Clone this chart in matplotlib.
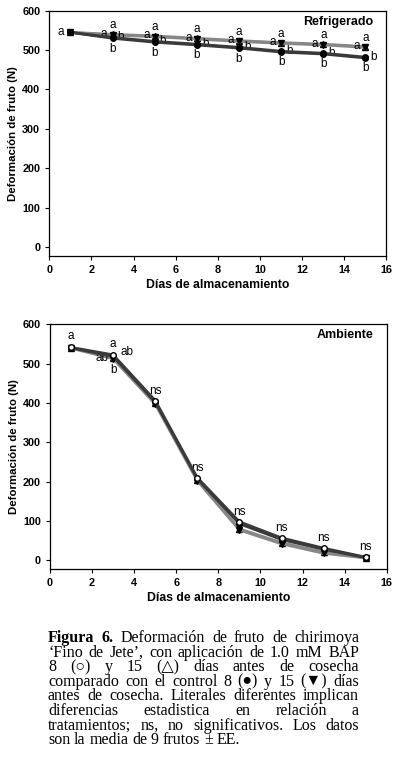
import matplotlib.pyplot as plt

dias = [1, 3, 5, 7, 9, 11, 13, 15]

# Refrigerado
bap15_r = [545, 540, 536, 530, 524, 519, 515, 509]
ctl15_r = [545, 538, 534, 528, 522, 517, 513, 507]
bap8_r = [545, 532, 522, 515, 507, 497, 492, 482]
ctl8_r = [545, 530, 520, 513, 505, 495, 490, 480]

# Ambiente
bap8_a = [541, 522, 406, 210, 98, 57, 31, 8]
ctl8_a = [540, 518, 402, 207, 93, 53, 28, 7]
bap15_a = [540, 515, 400, 205, 80, 45, 21, 7]
ctl15_a = [539, 512, 397, 202, 77, 42, 18, 6]

gris = '#878787'
oscuro = '#3a3a3a'

fig = plt.figure(figsize=(3.99, 7.70), dpi=100)
ax1 = fig.add_axes([0.1236, 0.6675, 0.845, 0.3186])
ax2 = fig.add_axes([0.1253, 0.261, 0.844, 0.318])

def serie(ax, y, color, marker, fill, z):
  ax.plot(dias, y, color=color, lw=2.0, marker=marker, ms=4,
          mfc=fill, mec='black', mew=1.0, zorder=z)

# panel refrigerado
serie(ax1, bap15_r, gris, '^', 'white', 3)
serie(ax1, ctl15_r, gris, 'v', 'black', 3)
serie(ax1, bap8_r, oscuro, 'o', 'white', 4)
serie(ax1, ctl8_r, oscuro, 'o', 'black', 4)

lab = dict(fontsize=8.5, family='Liberation Sans', ha='center', va='center',
           textcoords='offset points')
ax1.annotate('a', (1, 545), xytext=(-7, 0), **lab)
for i in range(1, 8):
  ax1.annotate('a', (dias[i], bap15_r[i]), xytext=(0, 6.5), **lab)
  ax1.annotate('a', (dias[i], ctl15_r[i]), xytext=(-6, 1), **lab)
  ax1.annotate('b', (dias[i], ctl8_r[i]), xytext=(0, -7.5), **lab)
  ax1.annotate('b', (dias[i], bap8_r[i]), xytext=(6, 0), **lab)

# panel ambiente
serie(ax2, bap15_a, gris, '^', 'white', 3)
serie(ax2, ctl15_a, gris, 'v', 'black', 3)
serie(ax2, ctl8_a, oscuro, 'o', 'black', 4)
serie(ax2, bap8_a, oscuro, 'o', 'white', 4)

ax2.annotate('a', (1, 541), xytext=(0, 8), **lab)
ax2.annotate('a', (3, bap8_a[1]), xytext=(0, 8), **lab)
ax2.annotate('ab', (3, ctl8_a[1]), xytext=(10, 3), **lab)
ax2.annotate('ab', (3, bap15_a[1]), xytext=(-8, 0), **lab)
ax2.annotate('b', (3, ctl15_a[1]), xytext=(0, -8), **lab)
for i in range(2, 8):
  ax2.annotate('ns', (dias[i], bap8_a[i]), xytext=(0, 7), **lab)

for ax, titulo, ymin in [(ax1, 'Refrigerado', -23), (ax2, 'Ambiente', -22)]:
  ax.set_xlim(0, 16)
  ax.set_ylim(ymin, 600)
  ax.set_xticks(range(0, 17, 2))
  ax.set_yticks(range(0, 601, 100))
  ax.tick_params(direction='out', length=3, width=0.8, labelsize=7.8, pad=3.5)
  for t in ax.get_xticklabels() + ax.get_yticklabels():
    t.set_fontweight('bold')
    t.set_family('Liberation Sans')
  for s in ax.spines.values():
    s.set_linewidth(0.9)
  ax.set_xlabel('Días de almacenamiento', fontsize=8.8, fontweight='bold',
                family='Liberation Sans', labelpad=3)
  ax.set_ylabel('Deformación de fruto (N)', fontsize=8.2, fontweight='bold',
                family='Liberation Sans', labelpad=3)
  ax.text(0.96, 0.955, titulo, transform=ax.transAxes, ha='right', va='center',
          fontsize=9, fontweight='bold', family='Liberation Sans')

# pie de figura, justificado a mano
lineas = [
  'Figura 6. Deformación de fruto de chirimoya',
  '‘Fino de Jete’, con aplicación de 1.0 mM BAP',
  '8 (○) y 15 (△) días antes de cosecha',
  'comparado con el control 8 (●) y 15 (▼) días',
  'antes de cosecha. Literales diferentes implican',
  'diferencias estadistica en relación a',
  'tratamientos; ns, no significativos. Los datos',
  'son la media de 9 frutos ± EE.',
]
x0, x1 = 48 / 399, 359 / 399
y0 = 1 - 638 / 770
paso = 14.6 / 770
fam = ['Liberation Serif', 'DejaVu Sans']
rend = fig.canvas.get_renderer()
for j, linea in enumerate(lineas):
  y = y0 - j * paso
  palabras = linea.split(' ')
  textos = []
  for k, p in enumerate(palabras):
    peso = 'bold' if (j == 0 and k < 2) else 'normal'
    t = fig.text(0, y, p, fontsize=11.5, family=fam, fontweight=peso,
                 va='center', ha='left')
    textos.append(t)
  anchos = [t.get_window_extent(rend).width / fig.bbox.width for t in textos]
  if j < len(lineas) - 1:
    hueco = (x1 - x0 - sum(anchos)) / (len(palabras) - 1)
  else:
    hueco = 3.8 / 399
  x = x0
  for t, w in zip(textos, anchos):
    t.set_x(x)
    x += w + hueco

fig.savefig('out.png', dpi=100)
